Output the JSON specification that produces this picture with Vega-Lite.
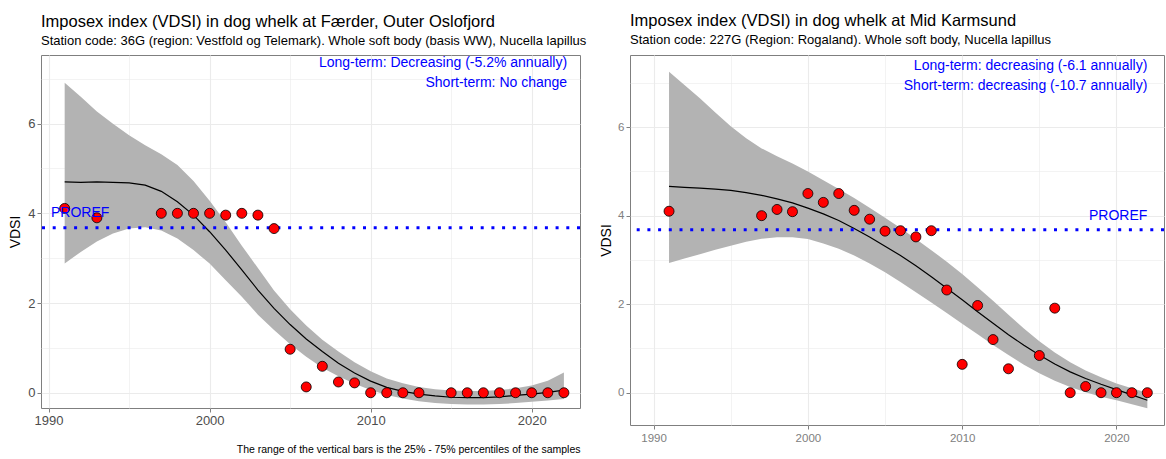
{
  "$schema": "https://vega.github.io/schema/vega-lite/v6.json",
  "background": "white",
  "padding": {"left": 8, "top": 12, "right": 0, "bottom": 0},
  "config": {
    "font": "Liberation Sans",
    "view": {"stroke": "#7f7f7f", "strokeWidth": 1},
    "axis": {"domain": false, "gridColor": "#ebebeb", "tickColor": "#7f7f7f", "labelFont": "Liberation Sans", "titleFont": "Liberation Sans", "labelFlush": false, "labelOverlap": false, "titleFontWeight": "normal", "titleColor": "black"}
  },
  "datasets": {
    "left_obs": [
      {"year": 1991, "value": 4.11}, {"year": 1993, "value": 3.9}, {"year": 1997, "value": 4.0}, {"year": 1998, "value": 4.0},
      {"year": 1999, "value": 4.0}, {"year": 2000, "value": 4.0}, {"year": 2001, "value": 3.96}, {"year": 2002, "value": 4.0},
      {"year": 2003, "value": 3.96}, {"year": 2004, "value": 3.66}, {"year": 2005, "value": 0.97}, {"year": 2006, "value": 0.13},
      {"year": 2007, "value": 0.59}, {"year": 2008, "value": 0.24}, {"year": 2009, "value": 0.22}, {"year": 2010, "value": 0},
      {"year": 2011, "value": 0}, {"year": 2012, "value": 0}, {"year": 2013, "value": 0}, {"year": 2015, "value": 0},
      {"year": 2016, "value": 0}, {"year": 2017, "value": 0}, {"year": 2018, "value": 0}, {"year": 2019, "value": 0},
      {"year": 2020, "value": 0}, {"year": 2021, "value": 0}, {"year": 2022, "value": 0}
    ],
    "left_fit": [
      {"year": 1991, "fit": 4.70, "lo": 2.88, "hi": 6.91},
      {"year": 1992, "fit": 4.69, "lo": 3.14, "hi": 6.60},
      {"year": 1993, "fit": 4.70, "lo": 3.37, "hi": 6.27},
      {"year": 1994, "fit": 4.69, "lo": 3.55, "hi": 6.00},
      {"year": 1995, "fit": 4.68, "lo": 3.66, "hi": 5.74},
      {"year": 1996, "fit": 4.63, "lo": 3.69, "hi": 5.52},
      {"year": 1997, "fit": 4.49, "lo": 3.62, "hi": 5.32},
      {"year": 1998, "fit": 4.26, "lo": 3.44, "hi": 5.08},
      {"year": 1999, "fit": 3.96, "lo": 3.18, "hi": 4.72},
      {"year": 2000, "fit": 3.59, "lo": 2.88, "hi": 4.28},
      {"year": 2001, "fit": 3.18, "lo": 2.51, "hi": 3.80},
      {"year": 2002, "fit": 2.74, "lo": 2.14, "hi": 3.28},
      {"year": 2003, "fit": 2.29, "lo": 1.74, "hi": 2.78},
      {"year": 2004, "fit": 1.88, "lo": 1.40, "hi": 2.28},
      {"year": 2005, "fit": 1.52, "lo": 1.08, "hi": 1.86},
      {"year": 2006, "fit": 1.20, "lo": 0.80, "hi": 1.50},
      {"year": 2007, "fit": 0.92, "lo": 0.56, "hi": 1.18},
      {"year": 2008, "fit": 0.66, "lo": 0.37, "hi": 0.92},
      {"year": 2009, "fit": 0.44, "lo": 0.20, "hi": 0.68},
      {"year": 2010, "fit": 0.26, "lo": 0.06, "hi": 0.48},
      {"year": 2011, "fit": 0.12, "lo": -0.05, "hi": 0.32},
      {"year": 2012, "fit": 0.03, "lo": -0.13, "hi": 0.21},
      {"year": 2013, "fit": -0.03, "lo": -0.19, "hi": 0.13},
      {"year": 2014, "fit": -0.07, "lo": -0.23, "hi": 0.08},
      {"year": 2015, "fit": -0.10, "lo": -0.25, "hi": 0.05},
      {"year": 2016, "fit": -0.11, "lo": -0.26, "hi": 0.04},
      {"year": 2017, "fit": -0.11, "lo": -0.26, "hi": 0.04},
      {"year": 2018, "fit": -0.09, "lo": -0.25, "hi": 0.06},
      {"year": 2019, "fit": -0.06, "lo": -0.23, "hi": 0.10},
      {"year": 2020, "fit": -0.03, "lo": -0.20, "hi": 0.16},
      {"year": 2021, "fit": 0.01, "lo": -0.17, "hi": 0.27},
      {"year": 2022, "fit": 0.06, "lo": -0.14, "hi": 0.45}
    ],
    "left_proref": [{"proref": 3.68}],
    "left_notes": [
      {"label": "Long-term: Decreasing (-5.2% annually)", "year": 2022.2, "value": 7.35},
      {"label": "Short-term: No change", "year": 2022.2, "value": 6.9}
    ],
    "left_proref_label": [{"label": "PROREF", "year": 1990.15, "value": 4.0}],
    "right_obs": [
      {"year": 1991, "value": 4.10}, {"year": 1997, "value": 4.00}, {"year": 1998, "value": 4.14}, {"year": 1999, "value": 4.09},
      {"year": 2000, "value": 4.50}, {"year": 2001, "value": 4.30}, {"year": 2002, "value": 4.50}, {"year": 2003, "value": 4.12},
      {"year": 2004, "value": 3.92}, {"year": 2005, "value": 3.65}, {"year": 2006, "value": 3.66}, {"year": 2007, "value": 3.52},
      {"year": 2008, "value": 3.66}, {"year": 2009, "value": 2.32}, {"year": 2010, "value": 0.64}, {"year": 2011, "value": 1.97},
      {"year": 2012, "value": 1.20}, {"year": 2013, "value": 0.54}, {"year": 2015, "value": 0.84}, {"year": 2016, "value": 1.91},
      {"year": 2017, "value": 0.0}, {"year": 2018, "value": 0.14}, {"year": 2019, "value": 0.0}, {"year": 2020, "value": 0.0},
      {"year": 2021, "value": 0.0}, {"year": 2022, "value": 0.0}
    ],
    "right_fit": [
      {"year": 1991, "fit": 4.66, "lo": 2.93, "hi": 7.25},
      {"year": 1992, "fit": 4.64, "lo": 3.03, "hi": 6.95},
      {"year": 1993, "fit": 4.62, "lo": 3.13, "hi": 6.65},
      {"year": 1994, "fit": 4.60, "lo": 3.23, "hi": 6.33},
      {"year": 1995, "fit": 4.57, "lo": 3.32, "hi": 6.02},
      {"year": 1996, "fit": 4.52, "lo": 3.41, "hi": 5.75},
      {"year": 1997, "fit": 4.46, "lo": 3.48, "hi": 5.52},
      {"year": 1998, "fit": 4.38, "lo": 3.51, "hi": 5.34},
      {"year": 1999, "fit": 4.29, "lo": 3.51, "hi": 5.18},
      {"year": 2000, "fit": 4.17, "lo": 3.47, "hi": 5.00},
      {"year": 2001, "fit": 4.04, "lo": 3.37, "hi": 4.80},
      {"year": 2002, "fit": 3.89, "lo": 3.25, "hi": 4.60},
      {"year": 2003, "fit": 3.71, "lo": 3.10, "hi": 4.40},
      {"year": 2004, "fit": 3.52, "lo": 2.92, "hi": 4.18},
      {"year": 2005, "fit": 3.31, "lo": 2.72, "hi": 3.95},
      {"year": 2006, "fit": 3.10, "lo": 2.50, "hi": 3.72},
      {"year": 2007, "fit": 2.87, "lo": 2.27, "hi": 3.47},
      {"year": 2008, "fit": 2.62, "lo": 2.04, "hi": 3.22},
      {"year": 2009, "fit": 2.36, "lo": 1.80, "hi": 2.96},
      {"year": 2010, "fit": 2.10, "lo": 1.56, "hi": 2.68},
      {"year": 2011, "fit": 1.83, "lo": 1.32, "hi": 2.38},
      {"year": 2012, "fit": 1.57, "lo": 1.08, "hi": 2.08},
      {"year": 2013, "fit": 1.31, "lo": 0.85, "hi": 1.76},
      {"year": 2014, "fit": 1.07, "lo": 0.63, "hi": 1.45},
      {"year": 2015, "fit": 0.85, "lo": 0.44, "hi": 1.16},
      {"year": 2016, "fit": 0.65, "lo": 0.27, "hi": 0.91},
      {"year": 2017, "fit": 0.47, "lo": 0.13, "hi": 0.69},
      {"year": 2018, "fit": 0.32, "lo": 0.01, "hi": 0.50},
      {"year": 2019, "fit": 0.19, "lo": -0.09, "hi": 0.35},
      {"year": 2020, "fit": 0.07, "lo": -0.17, "hi": 0.21},
      {"year": 2021, "fit": -0.05, "lo": -0.26, "hi": 0.10},
      {"year": 2022, "fit": -0.17, "lo": -0.35, "hi": 0.00}
    ],
    "right_proref": [{"proref": 3.68}],
    "right_notes": [
      {"label": "Long-term: decreasing (-6.1 annually)", "year": 2022, "value": 7.39},
      {"label": "Short-term: decreasing (-10.7 annually)", "year": 2022, "value": 6.92},
      {"label": "PROREF", "year": 2022, "value": 4.0}
    ]
  },
  "bounds": "flush",
  "spacing": 50,
  "hconcat": [
    {
      "width": 539,
      "height": 353,
      "title": {
        "text": "Imposex index (VDSI) in dog whelk at Færder, Outer Oslofjord",
        "subtitle": "Station code: 36G (region: Vestfold og Telemark). Whole soft body (basis WW), Nucella lapillus",
        "anchor": "start", "frame": "group", "font": "Liberation Sans", "subtitleFont": "Liberation Sans",
        "fontSize": 16.5, "fontWeight": "normal", "subtitleFontSize": 13, "color": "black", "subtitleColor": "black",
        "offset": 7, "subtitlePadding": 5
      },
      "layer": [
        {
          "data": {"name": "left_fit"},
          "mark": {"type": "area", "color": "#b3b3b3", "opacity": 1},
          "encoding": {
            "x": {"field": "year", "type": "quantitative",
              "scale": {"domain": [1989.53, 2023.0], "nice": false, "zero": false},
              "axis": {"values": [1990, 1995, 2000, 2005, 2010, 2015, 2020], "format": "d",
                "labelExpr": "datum.value % 10 === 0 ? datum.label : ''",
                "gridWidth": {"condition": {"test": "datum.value % 10 !== 0", "value": 0.6}, "value": 1.1},
                "tickOpacity": {"condition": {"test": "datum.value % 10 !== 0", "value": 0}, "value": 1},
                "labelFontSize": 13, "labelColor": "#4d4d4d", "tickSize": 4, "labelPadding": 2,
                "title": "The range of the vertical bars is the 25% - 75% percentiles of the samples",
                "titleAnchor": "end", "titleFontSize": 10.5, "titlePadding": 17}},
            "y": {"field": "lo", "type": "quantitative",
              "scale": {"domain": [-0.34, 7.53], "nice": false, "zero": false},
              "axis": {"values": [0, 1, 2, 3, 4, 5, 6, 7],
                "labelExpr": "datum.value % 2 === 0 ? datum.label : ''",
                "gridWidth": {"condition": {"test": "datum.value % 2 !== 0", "value": 0.6}, "value": 1.1},
                "tickOpacity": {"condition": {"test": "datum.value % 2 !== 0", "value": 0}, "value": 1},
                "labelFontSize": 13, "labelColor": "#4d4d4d", "tickSize": 4, "labelPadding": 2,
                "title": "VDSI", "titleFontSize": 14, "titlePadding": 5}},
            "y2": {"field": "hi"}
          }
        },
        {
          "data": {"name": "left_fit"},
          "mark": {"type": "line", "color": "black", "strokeWidth": 1.2},
          "encoding": {"x": {"field": "year", "type": "quantitative"}, "y": {"field": "fit", "type": "quantitative"}}
        },
        {
          "data": {"name": "left_proref"},
          "mark": {"type": "rule", "color": "blue", "strokeWidth": 3, "strokeDash": [3, 7.7]},
          "encoding": {"y": {"field": "proref", "type": "quantitative"}}
        },
        {
          "data": {"name": "left_obs"},
          "mark": {"type": "point", "shape": "circle", "filled": true, "fill": "#ff0000", "stroke": "black", "strokeWidth": 0.8, "size": 100, "opacity": 1},
          "encoding": {"x": {"field": "year", "type": "quantitative"}, "y": {"field": "value", "type": "quantitative"}}
        },
        {
          "data": {"name": "left_notes"},
          "mark": {"type": "text", "align": "right", "baseline": "middle", "color": "blue", "fontSize": 14, "font": "Liberation Sans"},
          "encoding": {"x": {"field": "year", "type": "quantitative"}, "y": {"field": "value", "type": "quantitative"}, "text": {"field": "label"}}
        },
        {
          "data": {"name": "left_proref_label"},
          "mark": {"type": "text", "align": "left", "baseline": "middle", "color": "blue", "fontSize": 14, "font": "Liberation Sans"},
          "encoding": {"x": {"field": "year", "type": "quantitative"}, "y": {"field": "value", "type": "quantitative"}, "text": {"field": "label"}}
        }
      ]
    },
    {
      "width": 534,
      "height": 370,
      "title": {
        "text": "Imposex index (VDSI) in dog whelk at Mid Karmsund",
        "subtitle": "Station code: 227G (Region: Rogaland). Whole soft body, Nucella lapillus",
        "anchor": "start", "frame": "group", "font": "Liberation Sans", "subtitleFont": "Liberation Sans",
        "fontSize": 16.5, "fontWeight": "normal", "subtitleFontSize": 13, "color": "black", "subtitleColor": "black",
        "offset": 8, "subtitlePadding": 5
      },
      "layer": [
        {
          "data": {"name": "right_fit"},
          "mark": {"type": "area", "color": "#b3b3b3", "opacity": 1},
          "encoding": {
            "x": {"field": "year", "type": "quantitative",
              "scale": {"domain": [1988.47, 2023.08], "nice": false, "zero": false},
              "axis": {"values": [1990, 1995, 2000, 2005, 2010, 2015, 2020], "format": "d",
                "labelExpr": "datum.value % 10 === 0 ? datum.label : ''",
                "gridWidth": {"condition": {"test": "datum.value % 10 !== 0", "value": 0.6}, "value": 1.1},
                "tickOpacity": {"condition": {"test": "datum.value % 10 !== 0", "value": 0}, "value": 1},
                "labelFontSize": 11.5, "labelColor": "#808080", "tickSize": 4, "labelPadding": 3,
                "title": null}},
            "y": {"field": "lo", "type": "quantitative",
              "scale": {"domain": [-0.73, 7.63], "nice": false, "zero": false},
              "axis": {"values": [0, 1, 2, 3, 4, 5, 6, 7],
                "labelExpr": "datum.value % 2 === 0 ? datum.label : ''",
                "gridWidth": {"condition": {"test": "datum.value % 2 !== 0", "value": 0.6}, "value": 1.1},
                "tickOpacity": {"condition": {"test": "datum.value % 2 !== 0", "value": 0}, "value": 1},
                "labelFontSize": 11.5, "labelColor": "#808080", "tickSize": 4, "labelPadding": 2,
                "title": "VDSI", "titleFontSize": 14, "titlePadding": 4}},
            "y2": {"field": "hi"}
          }
        },
        {
          "data": {"name": "right_fit"},
          "mark": {"type": "line", "color": "black", "strokeWidth": 1.2},
          "encoding": {"x": {"field": "year", "type": "quantitative"}, "y": {"field": "fit", "type": "quantitative"}}
        },
        {
          "data": {"name": "right_proref"},
          "mark": {"type": "rule", "color": "blue", "strokeWidth": 3, "strokeDash": [3, 7.7]},
          "encoding": {"y": {"field": "proref", "type": "quantitative"}}
        },
        {
          "data": {"name": "right_obs"},
          "mark": {"type": "point", "shape": "circle", "filled": true, "fill": "#ff0000", "stroke": "black", "strokeWidth": 0.8, "size": 100, "opacity": 1},
          "encoding": {"x": {"field": "year", "type": "quantitative"}, "y": {"field": "value", "type": "quantitative"}}
        },
        {
          "data": {"name": "right_notes"},
          "mark": {"type": "text", "align": "right", "baseline": "middle", "color": "blue", "fontSize": 14, "font": "Liberation Sans"},
          "encoding": {"x": {"field": "year", "type": "quantitative"}, "y": {"field": "value", "type": "quantitative"}, "text": {"field": "label"}}
        }
      ]
    }
  ]
}
